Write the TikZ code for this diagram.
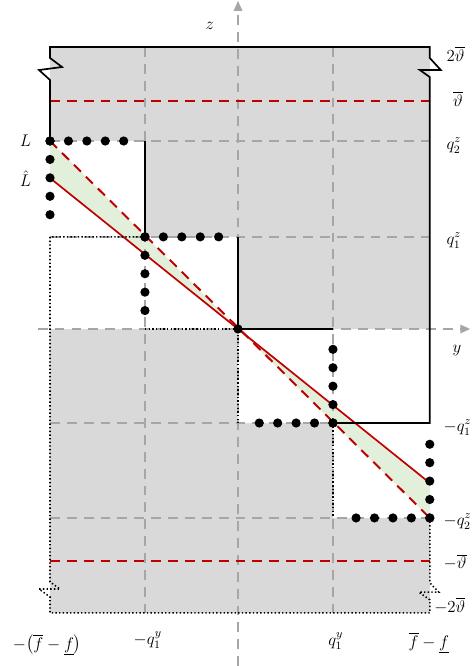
\documentclass[tikz,border=0pt]{standalone}
\usepackage{amsmath}
\usepackage{amssymb}
\usetikzlibrary{arrows.meta}

\definecolor{boxgray}{RGB}{217,217,217}
\definecolor{gridgray}{RGB}{166,166,166}
\definecolor{cutred}{RGB}{192,0,0}
\definecolor{bandgreen}{RGB}{226,239,218}

\begin{document}
\begin{tikzpicture}[x=2.35cm,y=2.35cm,
    gridline/.style={gridgray, line width=1.1pt, dash pattern=on 7pt off 5pt},
    axisline/.style={gridline, -{Triangle[width=6pt,length=7pt]}},
    redline/.style={cutred, line width=1.2pt},
    reddash/.style={cutred, line width=1.4pt, dash pattern=on 7pt off 5pt},
    upbound/.style={black, line width=1.2pt},
    lowbound/.style={black, line width=1.1pt, dash pattern=on 1pt off 1.6pt},
    bigdot/.style={circle, fill=black, inner sep=0pt, minimum size=2.3mm},
    lbl/.style={inner sep=1pt, font=\fontsize{11.5}{13}\selectfont}]
\useasboundingbox (-2.532,-3.585) rectangle (2.489,3.5);

% corners of the box and of the steps
\coordinate (tl) at (-2,3);
\coordinate (tr) at (2.04,3);
\coordinate (bl) at (-2,-3.02);
\coordinate (br) at (2.04,-3.02);
\coordinate (a) at (-2,2);
\coordinate (b) at (-0.99,0.98);
\coordinate (O) at (0,0);
\coordinate (c) at (1.01,-1);
\coordinate (d) at (2.04,-2.01);
\coordinate (Lh) at (-2,1.606);
\coordinate (Rh) at (2.04,-1.638);

% region
\fill[boxgray] (bl) rectangle (tr);
\fill[white] (a) -- (-0.99,2) -- (b) -- (0,0.98) -- (O) -- (-2,0) -- cycle;
\fill[white] (O) -- (2.04,0) -- (d) -- (1.01,-2.01) -- (c) -- (0,-1) -- cycle;

% band between L and \hat L
\fill[bandgreen] (a) -- (O) -- (Lh) -- cycle;
\fill[bandgreen] (O) -- (Rh) -- (d) -- cycle;

% grid
\foreach \yy in {2,0.98,-1,-2.01}
    \draw[gridline] (-2,\yy) -- (2.04,\yy);
\foreach \xx in {-0.99,1.01}
    \draw[gridline] (\xx,3) -- (\xx,-3.02);

% axes
\draw[axisline] (-2.13,0) -- (2.47,0);
\draw[axisline] (0,-3.585) -- (0,3.49);

% bounds on theta
\draw[reddash] (-2,2.426) -- (2.04,2.426);
\draw[reddash] (-2,-2.47) -- (2.04,-2.47);

% L and \hat L
\draw[reddash] (a) -- (d);
\draw[redline] (Lh) -- (Rh);

% upper boundary
\draw[upbound] (a) -- (-2,2.649) -- (-2.117,2.755) -- (-1.872,2.787) -- (-2,2.883)
    -- (tl) -- (tr) -- (2.04,2.883) -- (2.157,2.755) -- (1.934,2.755) -- (2.04,2.68)
    -- (2.04,-1) -- (c);
\draw[upbound] (-0.99,2) -- (b);
\draw[upbound] (0,0.98) -- (O) -- (1.01,0);

% lower boundary
\draw[lowbound] (b) -- (-2,0.98) -- (-2,-2.69) -- (-1.894,-2.766) -- (-2.117,-2.766)
    -- (-2,-2.85) -- (bl) -- (br) -- (2.04,-2.88) -- (1.925,-2.80) -- (2.136,-2.80)
    -- (2.04,-2.70) -- (d);
\draw[lowbound] (-0.99,0) -- (O) -- (0,-1);
\draw[lowbound] (c) -- (1.01,-2.01);

% points
\foreach \cx/\cy/\sx [count=\i] in {-2/2/1, -0.99/0.98/1, 1.01/-1/-1, 2.04/-2.01/-1}
    \foreach \k in {0,...,4} {
        \node[bigdot] (dh-\i-\k) at ({\cx+\sx*0.196*\k},\cy) {};
        \node[bigdot] (dv-\i-\k) at (\cx,{\cy-\sx*0.196*\k}) {};
    }
\node[bigdot] (dO) at (O) {};

% labels
\node[lbl] (lz) at (-0.3,3.23) {$z$};
\node[lbl] (ly) at (2.33,-0.23) {$y$};
\node[lbl] (lL) at (-2.26,2.0) {$L$};
\node[lbl] (lLh) at (-2.26,1.6) {$\hat{L}$};
\node[lbl, anchor=west] (l2t) at (2.2,2.93) {$2\overline{\vartheta}$};
\node[lbl, anchor=west] (lt) at (2.27,2.45) {$\overline{\vartheta}$};
\node[lbl, anchor=west] (lq2) at (2.2,1.95) {$q_2^z$};
\node[lbl, anchor=west] (lq1) at (2.2,0.94) {$q_1^z$};
\node[lbl, anchor=west] (lmq1) at (2.17,-1.05) {$-q_1^z$};
\node[lbl, anchor=west] (lmq2) at (2.17,-2.05) {$-q_2^z$};
\node[lbl, anchor=west] (lmt) at (2.17,-2.48) {$-\overline{\vartheta}$};
\node[lbl, anchor=west] (lm2t) at (2.07,-2.94) {$-2\overline{\vartheta}$};
\node[lbl] (lmf) at (-2.03,-3.36) {$-\bigl(\overline{f}-\underline{f}\bigr)$};
\node[lbl] (lmqy) at (-0.96,-3.31) {$-q_1^y$};
\node[lbl] (lqy) at (1.04,-3.32) {$q_1^y$};
\node[lbl] (lf) at (2.03,-3.34) {$\overline{f}-\underline{f}$};
\end{tikzpicture}
\end{document}
